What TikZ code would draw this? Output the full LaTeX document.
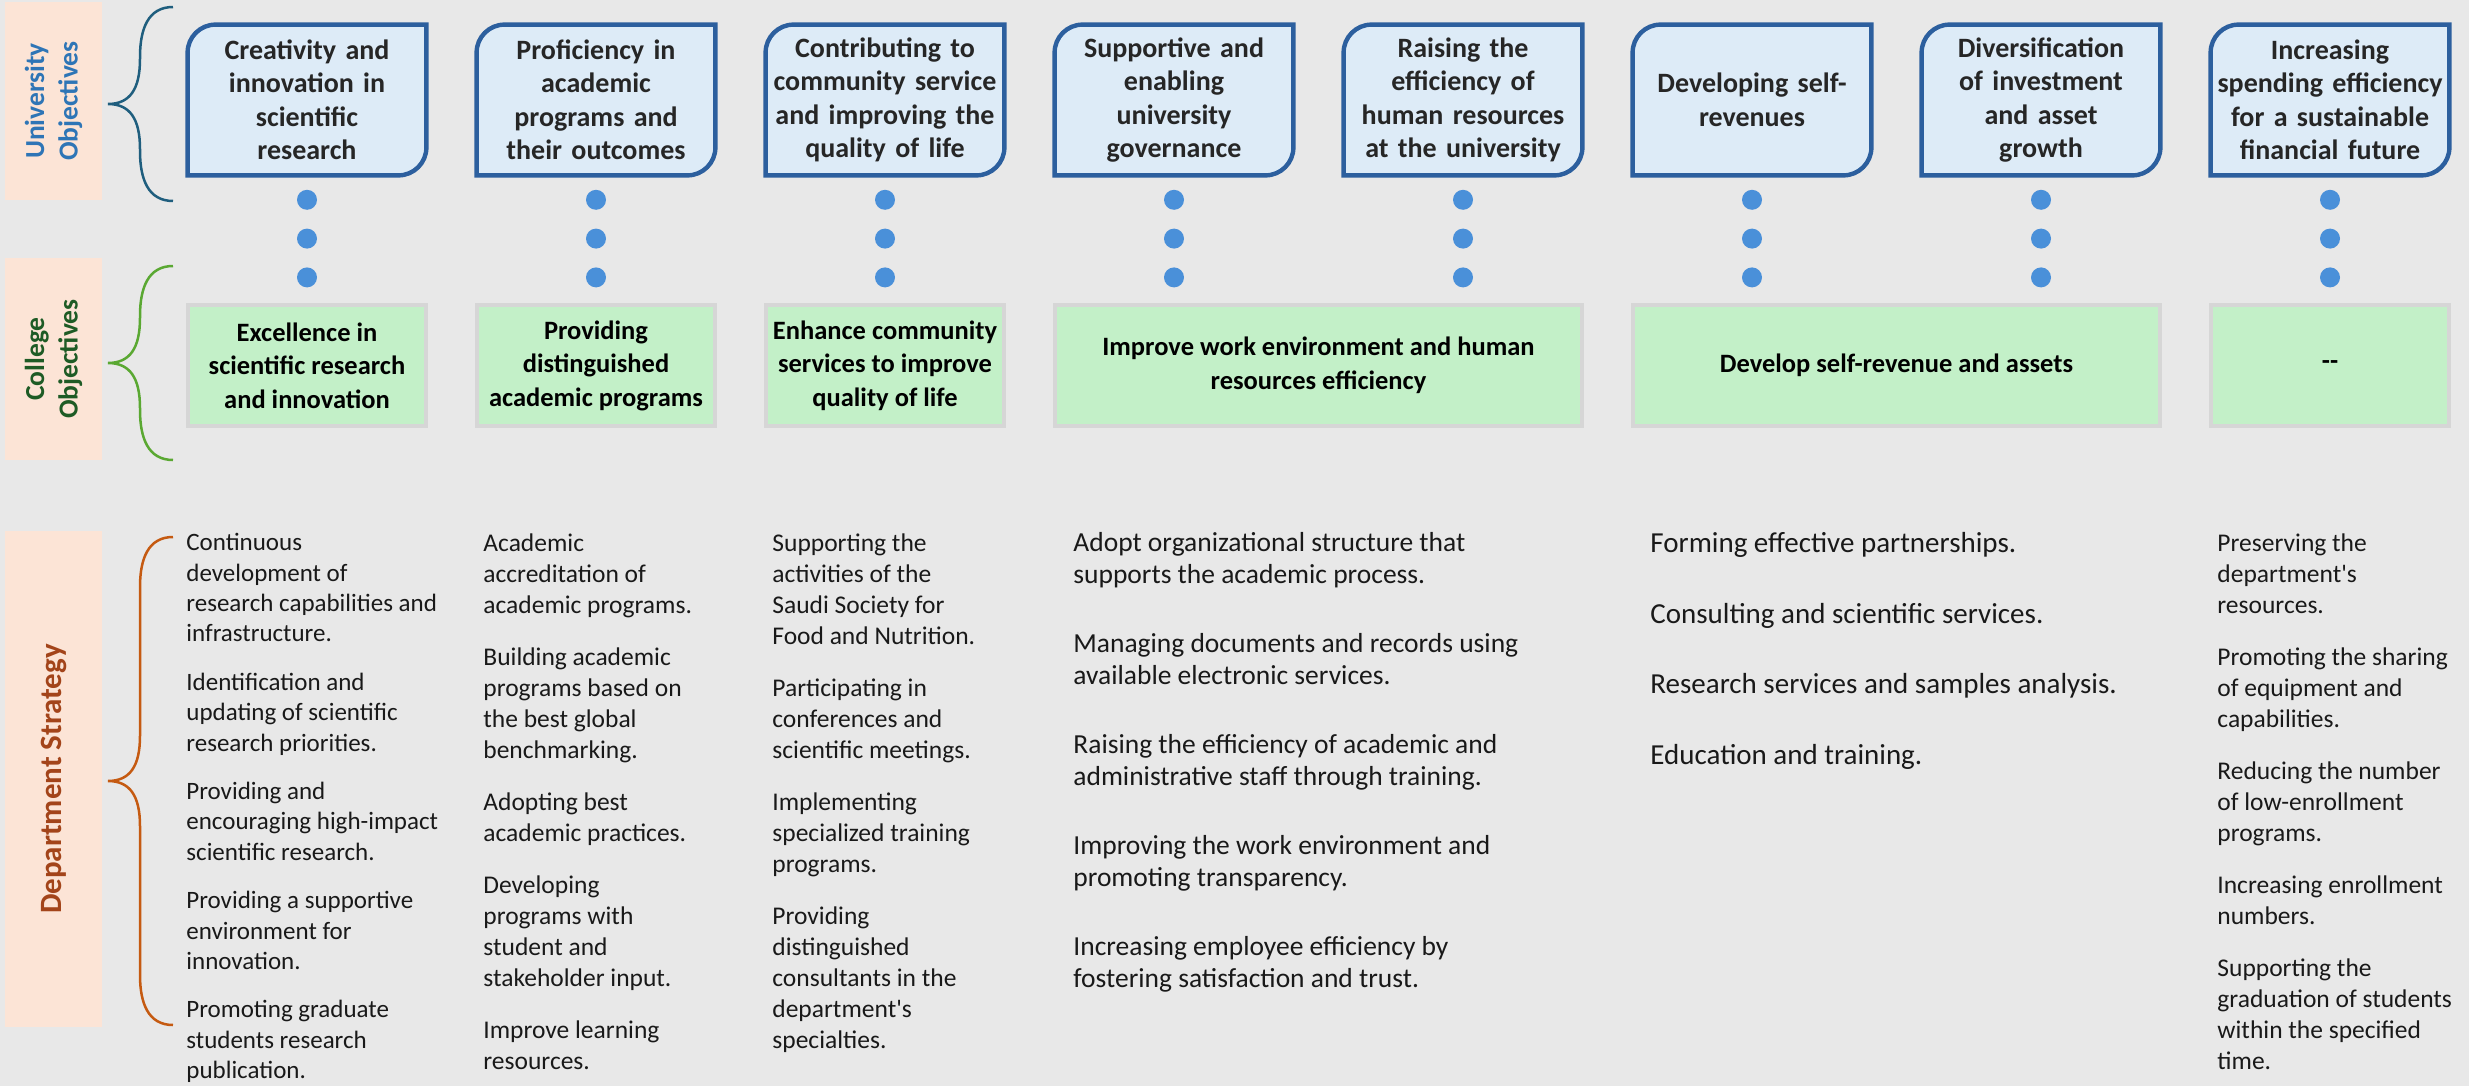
\documentclass[tikz,border=0pt]{standalone}
\usepackage{fontspec}
\setmainfont{Carlito}
\usetikzlibrary{positioning}
\definecolor{bggray}{HTML}{E8E8E8}
\definecolor{peach}{HTML}{FCE4D6}
\definecolor{ublue}{HTML}{2E75B6}
\definecolor{ubrace}{HTML}{1F5E7E}
\definecolor{cgreen}{HTML}{1E5B25}
\definecolor{cbrace}{HTML}{5AA832}
\definecolor{dbrown}{HTML}{A3441A}
\definecolor{dbrace}{HTML}{C55A11}
\definecolor{ufill}{HTML}{DDEBF7}
\definecolor{ubdr}{HTML}{2C5F9E}
\definecolor{utext}{HTML}{262626}
\definecolor{dotblue}{HTML}{4A90D9}
\definecolor{gfill}{HTML}{C3F0C8}
\definecolor{gbdr}{HTML}{D6D6D6}
\pgfdeclarelayer{bg}
\pgfdeclarelayer{mid}
\pgfsetlayers{bg,mid,main}
\tikzset{
  lab/.style={rectangle, fill=peach, rotate=90, inner sep=0, minimum height=48.5pt, align=center, font=\fontsize{13.75}{16.75}\selectfont\bfseries},
  uo/.style={rectangle, minimum width=119pt, minimum height=75pt, inner sep=0, text width=117pt, align=center, text=utext, font=\fontsize{14}{16.75}\selectfont\bfseries},
  ubox/.style={draw=ubdr, line width=2.2pt, fill=ufill},
  co/.style={rectangle, draw=gbdr, line width=2pt, fill=gfill, minimum width=119pt, minimum height=60.5pt, inner sep=0, align=center, font=\fontsize{13.25}{16.75}\selectfont\bfseries},
  bdot/.style={circle, fill=dotblue, minimum size=10pt, inner sep=0},
  st/.style={anchor=north west, inner sep=0, align=left, text=black!90, font=\fontsize{12.75}{15.5}\selectfont},
  brc/.style={line width=1.25pt},
  node distance=9pt
}

\begin{document}
\begin{tikzpicture}[x=0.5pt, y=-0.5pt]
	\useasboundingbox (0,0) rectangle (2469,1086);
	\begin{pgfonlayer}{bg}
		\fill[bggray] (0,0) rectangle (2469,1086);
	\end{pgfonlayer}

	% row labels
	\node[lab, minimum width=99pt, text=ublue] (ulab) at (53.5,101) {University\\Objectives};
	\node[lab, minimum width=101pt, text=cgreen] (clab) at (53.5,359) {College\\Objectives};
	\node[lab, minimum width=248pt, text=dbrown, font=\fontsize{15.5}{18}\selectfont\bfseries] (dlab) at (53.5,779) {Department Strategy};

	\foreach \ya/\yb/\cl in {7/201/ubrace, 266/460/cbrace, 537/1025/dbrace}{
		\pgfmathsetmacro{\ym}{(\ya+\yb)/2}
		\draw[brc, draw=\cl] (173,\ya) .. controls (148,\ya) and (140,\ya+22) .. (140,\ya+50) -- (140,\ym-45) .. controls (140,\ym-15) and (130,\ym) .. (108,\ym) .. controls (130,\ym) and (140,\ym+15) .. (140,\ym+45) -- (140,\yb-50) .. controls (140,\yb-22) and (148,\yb) .. (173,\yb);
	}

	% university objectives
	\node[uo] (u1) at (307,100) {Creativity and\\innovation in\\scientific\\research};
	\node[uo] (u2) at (596,100) {Proficiency in\\academic\\programs and\\their outcomes};
	\node[uo] (u3) at (885,100) {Contributing to\\community service\\and improving the\\quality of life};
	\node[uo] (u4) at (1174,100) {Supportive and\\enabling\\university\\governance};
	\node[uo] (u5) at (1463,100) {Raising the\\efficiency of\\human resources\\at the university};
	\node[uo] (u6) at (1752,100) {Developing self-\\revenues};
	\node[uo] (u7) at (2041,100) {Diversification\\of investment\\and asset\\growth};
	\node[uo] (u8) at (2330,100) {Increasing\\spending efficiency\\for a sustainable\\financial future};

	\begin{pgfonlayer}{mid}
		\foreach \i in {1,...,8}
			\draw[ubox] (u\i.south west) -- ([yshift=-14pt]u\i.north west) arc[start angle=180, end angle=90, radius=14pt] -- (u\i.north east) -- ([yshift=14pt]u\i.south east) arc[start angle=0, end angle=-90, radius=14pt] -- cycle;
	\end{pgfonlayer}

	\foreach \i in {1,...,8}{
		\node[bdot, below=7pt of u\i] (da\i) {};
		\node[bdot, below=of da\i] (db\i) {};
		\node[bdot, below=of db\i] (dc\i) {};
	}

	% college objectives
	\node[co] (c1) at (307,365.5) {Excellence in\\scientific research\\and innovation};
	\node[co] (c2) at (596,365.5) {Providing\\distinguished\\academic programs};
	\node[co] (c3) at (885,365.5) {Enhance community\\services to improve\\quality of life};
	\node[co, minimum width=263.5pt] (c4) at (1318.5,365.5) {Improve work environment and human\\resources efficiency};
	\node[co, minimum width=263.5pt] (c5) at (1896.5,365.5) {Develop self-revenue and assets};
	\node[co] (c6) at (2330,365.5) {-{}-};

	% department strategy
	\node[st, font=\fontsize{12.5}{15.2}\selectfont] (s1) at (186,533) {Continuous\\development of\\research capabilities and\\infrastructure.\\[9pt]
		Identification and\\updating of scientific\\research priorities.\\[9pt]
		Providing and\\encouraging high-impact\\scientific research.\\[9pt]
		Providing a supportive\\environment for\\innovation.\\[9pt]
		Promoting graduate\\students research\\publication.};
	\node[st] (s2) at (483,533) {Academic\\accreditation of\\academic programs.\\[10.5pt]
		Building academic\\programs based on\\the best global\\benchmarking.\\[10.5pt]
		Adopting best\\academic practices.\\[10.5pt]
		Developing\\programs with\\student and\\stakeholder input.\\[10.5pt]
		Improve learning\\resources.};
	\node[st] (s3) at (772,533) {Supporting the\\activities of the\\Saudi Society for\\Food and Nutrition.\\[10.5pt]
		Participating in\\conferences and\\scientific meetings.\\[10.5pt]
		Implementing\\specialized training\\programs.\\[10.5pt]
		Providing\\distinguished\\consultants in the\\department\textquotesingle s\\specialties.};
	\node[st, font=\fontsize{13.75}{16}\selectfont] (s4) at (1073,532) {Adopt organizational structure that\\supports the academic process.\\[18.5pt]
		Managing documents and records using\\available electronic services.\\[18.5pt]
		Raising the efficiency of academic and\\administrative staff through training.\\[18.5pt]
		Improving the work environment and\\promoting transparency.\\[18.5pt]
		Increasing employee efficiency by\\fostering satisfaction and trust.};
	\node[st, font=\fontsize{14.5}{17}\selectfont] (s5) at (1650,532) {Forming effective partnerships.\\[18.25pt]
		Consulting and scientific services.\\[18.25pt]
		Research services and samples analysis.\\[18.25pt]
		Education and training.};
	\node[st] (s6) at (2217,533) {Preserving the\\department\textquotesingle s\\resources.\\[10.5pt]
		Promoting the sharing\\of equipment and\\capabilities.\\[10.5pt]
		Reducing the number\\of low-enrollment\\programs.\\[10.5pt]
		Increasing enrollment\\numbers.\\[10.5pt]
		Supporting the\\graduation of students\\within the specified\\time.};
\end{tikzpicture}
\end{document}
